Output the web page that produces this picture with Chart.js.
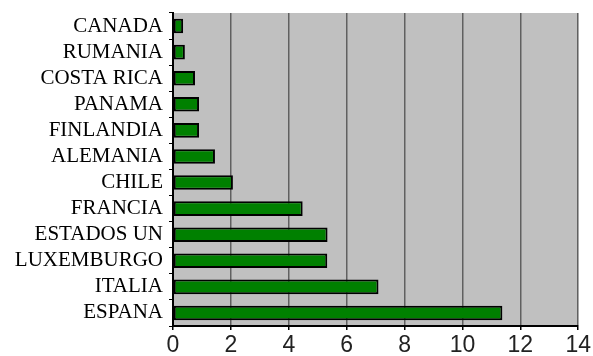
<!DOCTYPE html>
<html>
<head>
<meta charset="utf-8">
<script src="https://cdn.jsdelivr.net/npm/chart.js@4/dist/chart.umd.min.js"></script>
<style>
  html, body { margin: 0; padding: 0; background: #ffffff; }
  #wrap { width: 593px; height: 356px; }
</style>
</head>
<body>
<div id="wrap"><canvas id="c" width="593" height="356"></canvas></div>
<script>
// Countries, top to bottom
const countries = ['CANADA', 'RUMANIA', 'COSTA RICA', 'PANAMA', 'FINLANDIA', 'ALEMANIA',
                   'CHILE', 'FRANCIA', 'ESTADOS UN', 'LUXEMBURGO', 'ITALIA', 'ESPANA'];
const values = [0.35, 0.41, 0.76, 0.9, 0.9, 1.45, 2.07, 4.48, 5.34, 5.33, 7.1, 11.38];
const xTicks = [0, 2, 4, 6, 8, 10, 12, 14];

// Grey fill behind the plot area
const plotBackground = {
  id: 'plotBackground',
  beforeDraw(chart) {
    const { ctx, chartArea: a } = chart;
    ctx.save();
    ctx.fillStyle = '#c0c0c0';
    ctx.fillRect(a.left, a.top, a.right - a.left, a.bottom - a.top);
    ctx.restore();
  }
};

new Chart(document.getElementById('c'), {
  type: 'bar',
  data: {
    labels: countries,
    datasets: [{
      data: values,
      backgroundColor: '#008000',
      borderColor: '#000000',
      borderWidth: 2,
      borderSkipped: false,
      categoryPercentage: 1,
      barPercentage: 0.56
    }]
  },
  options: {
    indexAxis: 'y',
    responsive: false,
    animation: false,
    layout: { padding: { top: 13, right: 14, left: 0, bottom: 0 } },
    plugins: { legend: { display: false }, tooltip: { enabled: false } },
    scales: {
      x: {
        min: 0,
        max: 14,
        afterBuildTicks(scale) { scale.ticks = xTicks.map(v => ({ value: v })); },
        afterFit(scale) { scale.height = 30; },
        grid: {
          color: '#606060',
          lineWidth: 1.5,
          drawTicks: true,
          tickLength: 4,
          tickColor: '#000000'
        },
        border: { color: '#000000', width: 2 },
        ticks: {
          color: '#222222',
          padding: 2,
          font: { family: 'Liberation Sans', size: 23 }
        }
      },
      y: {
        afterFit(scale) {
          scale.width = 173;
          scale.paddingTop = 0;
          scale.paddingBottom = 0;
        },
        grid: {
          drawOnChartArea: false,
          offset: true,
          tickLength: 4,
          tickColor: '#000000'
        },
        border: { color: '#000000', width: 2 },
        ticks: {
          autoSkip: false,
          color: '#000000',
          padding: 6,
          font: { family: 'Liberation Serif', size: 21 }
        }
      }
    }
  },
  plugins: [plotBackground]
});
</script>
</body>
</html>
